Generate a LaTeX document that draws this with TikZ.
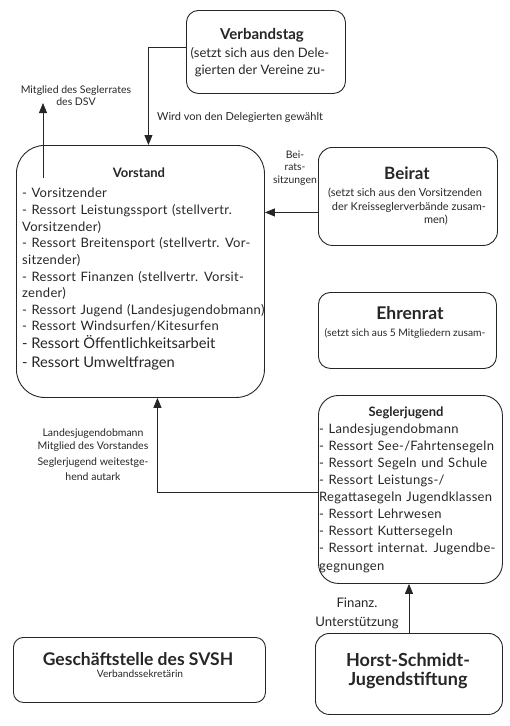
\documentclass[tikz,border=0pt]{standalone}
\usepackage{fontspec}
\setmainfont{Lato}
\newfontfamily\listfont{Lato}[WordSpace=1.25, LetterSpace=2.3]
\usetikzlibrary{arrows.meta}
\begin{document}
\begin{tikzpicture}[x=1pt,y=-1pt,
  box/.style={draw=black!85, line width=0.9pt, anchor=north west, inner sep=0pt},
  txt/.style={inner sep=0pt, text=black!85},
  arr/.style={draw=black!85, line width=0.9pt, -{Triangle[length=10pt,width=8pt]}},
  big/.style={font=\fontsize{13}{16.65}\selectfont},
  lst/.style={font=\listfont\fontsize{13}{16.65}\selectfont}]
\useasboundingbox (0,0) rectangle (510,726);
% boxes
\node[box, rounded corners=12pt, minimum width=159pt, minimum height=83pt] (verband) at (186,10) {};
\node[box, rounded corners=28pt, minimum width=248pt, minimum height=252pt] (vorstand) at (16,145) {};
\node[box, rounded corners=14pt, minimum width=179pt, minimum height=98pt] (beirat) at (318,147) {};
\node[box, rounded corners=12pt, minimum width=178pt, minimum height=76pt] (ehren) at (318,292) {};
\node[box, rounded corners=20pt, minimum width=184pt, minimum height=188pt] (segler) at (318,395) {};
\node[box, rounded corners=10pt, minimum width=252pt, minimum height=65pt] (gesch) at (13,637) {};
\node[box, rounded corners=14pt, minimum width=187pt, minimum height=81pt] (horst) at (315,633) {};
% Verbandstag
\node[txt, anchor=base, font=\bfseries\fontsize{15}{18}\selectfont] (verbandT) at (262,39.5) {Verbandstag};
\node[txt, anchor=north, align=center, big] (verbandB) at (260,47) {(setzt sich aus den Dele-\\[0.35pt]gierten der Vereine zu-};
% Vorstand
\node[txt, anchor=base, font=\bfseries\fontsize{13}{15}\selectfont] (vorstandT) at (139,177.5) {Vorstand};
\node[txt, anchor=north west, align=left, lst] (vorstandB) at (22,188) {- Vorsitzender\\
- Ressort Leistungssport (stellvertr.\\
Vorsitzender)\\
- Ressort Breitensport (stellvertr. Vor-\\
sitzender)\\
- Ressort Finanzen (stellvertr. Vorsit-\\
zender)\\
- Ressort Jugend (Landesjugendobmann)\\
- Ressort Windsurfen/Kitesurfen};
\node[txt, anchor=base west, font=\fontsize{14.7}{18}\selectfont] (vorstandC) at (22,348) {- Ressort Öffentlichkeitsarbeit};
\node[txt, anchor=base west, font=\fontsize{14.7}{18}\selectfont] (vorstandD) at (22,367.5) {- Ressort Umweltfragen};
% Beirat
\node[txt, anchor=base, font=\bfseries\fontsize{17}{19}\selectfont] (beiratT) at (407,179) {Beirat};
\node[txt, anchor=base, font=\fontsize{11}{13.5}\selectfont] (beiratB1) at (405,196.5) {(setzt sich aus den Vorsitzenden};
\node[txt, anchor=base, font=\fontsize{11}{13.5}\selectfont] (beiratB2) at (409,210) {der Kreisseglerverbände zusam-};
\node[txt, anchor=base, font=\fontsize{11}{13.5}\selectfont] (beiratB3) at (436,223.5) {men)};
\node[txt, anchor=north, align=center, font=\fontsize{10.4}{12.5}\selectfont] (beiratL) at (295,150.5) {Bei-\\rats-\\sitzungen};
% Ehrenrat
\node[txt, anchor=base, font=\bfseries\fontsize{17.5}{19}\selectfont] (ehrenT) at (410,319) {Ehrenrat};
\node[txt, anchor=base, font=\fontsize{10.3}{12}\selectfont] (ehrenB) at (405,336.5) {(setzt sich aus 5 Mitgliedern zusam-};
% Seglerjugend
\node[txt, anchor=base, font=\bfseries\fontsize{13}{15}\selectfont] (seglerT) at (406,416.5) {Seglerjugend};
\node[txt, anchor=north west, align=left, font=\listfont\fontsize{13}{17.1}\selectfont] (seglerB) at (319,423.5) {- Landesjugendobmann\\
- Ressort See-/Fahrtensegeln\\
- Ressort Segeln und Schule\\
- Ressort Leistungs-/\\
Regattasegeln Jugendklassen\\
- Ressort Lehrwesen\\
- Ressort Kuttersegeln\\
- Ressort internat. Jugendbe-\\
gegnungen};
% Geschaeftsstelle
\node[txt, anchor=base, font=\bfseries\fontsize{17.5}{18}\selectfont] (geschT) at (138,665.5) {Geschäftstelle des SVSH};
\node[txt, anchor=base, font=\fontsize{10.2}{12}\selectfont] (geschB) at (140,677) {Verbandssekretärin};
% Horst
\node[txt, anchor=north, align=center, font=\bfseries\fontsize{18}{19}\selectfont] (horstT) at (408,653) {Horst-Schmidt-\\Jugendstiftung};
% labels
\node[txt, anchor=north, align=center, font=\fontsize{10.5}{11.7}\selectfont] (mitglied) at (76,86) {Mitglied des Seglerrates\\des DSV};
\node[txt, anchor=base west, font=\fontsize{11}{12}\selectfont] (wird) at (157,120.5) {Wird von den Delegierten gewählt};
\node[txt, anchor=north, align=center, font=\fontsize{10.5}{12.5}\selectfont] (ljo) at (93,429) {Landesjugendobmann\\Mitglied des Vorstandes};
\node[txt, anchor=north, align=center, font=\fontsize{10.5}{15}\selectfont] (autark) at (93,457.5) {Seglerjugend weitestge-\\hend autark};
\node[txt, anchor=north, align=center, font=\fontsize{13.2}{19}\selectfont] (finanz) at (357,597.5) {Finanz.\\Unterstützung};
% connectors
\coordinate (m0) at (43,178);
\coordinate (m1) at (43,103);
\draw[arr] (m0) -- (m1);
\draw[arr] ([yshift=4.5pt]verband.west) -| ([xshift=8pt]vorstand.north);
\draw[arr] ([yshift=-16pt]beirat.west) -- ([yshift=-16pt]beirat.west -| vorstand.east);
\draw[arr] ([yshift=-3pt]segler.west) -| ([xshift=17pt]vorstand.south);
\draw[arr] (horst.north -| 409,0) -- (segler.south -| 409,0);
\end{tikzpicture}
\end{document}
